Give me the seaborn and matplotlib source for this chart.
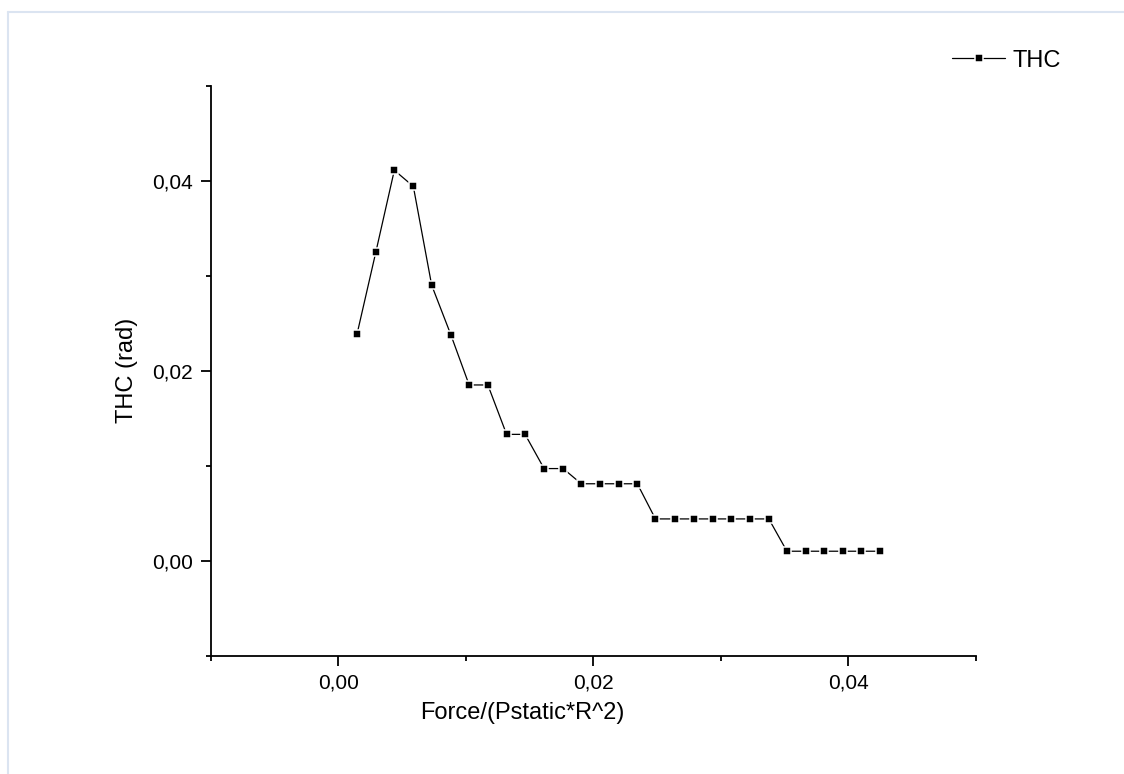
# THC vs normalised force, line with square markers
import matplotlib
matplotlib.use("Agg")
import matplotlib.pyplot as plt
import seaborn as sns
import pandas as pd
from matplotlib.lines import Line2D
from matplotlib.ticker import FixedLocator, FixedFormatter, MultipleLocator

# data
force = [0.00147, 0.00294, 0.00439, 0.00588, 0.00732, 0.00882, 0.01026, 0.01173,
         0.01320, 0.01465, 0.01614, 0.01764, 0.01906, 0.02055, 0.02205, 0.02346,
         0.02488, 0.02638, 0.02787, 0.02937, 0.03079, 0.03228, 0.03378, 0.03520,
         0.03669, 0.03811, 0.03961, 0.04102, 0.04252]
thc = [0.0239, 0.0325, 0.0411, 0.0394, 0.0290, 0.0238, 0.0185, 0.0185,
       0.0133, 0.0133, 0.0097, 0.0097, 0.0081, 0.0081, 0.0081, 0.0081,
       0.0044, 0.0044, 0.0044, 0.0044, 0.0044, 0.0044, 0.0044, 0.0010,
       0.0010, 0.0010, 0.0010, 0.0010, 0.0010]
series_name = "THC"

x_ticks = [0.00, 0.02, 0.04]
x_tick_labels = ["0,00", "0,02", "0,04"]
y_ticks = [0.00, 0.02, 0.04]
y_tick_labels = ["0,00", "0,02", "0,04"]
x_label = "Force/(Pstatic*R^2)"
y_label = "THC (rad)"

sns.set_style("ticks")
plt.rcParams["font.family"] = ["Liberation Sans", "DejaVu Sans"]
for key in ["text.color", "axes.labelcolor", "xtick.color", "ytick.color"]:
    plt.rcParams[key] = "black"

fig = plt.figure(figsize=(11.24, 7.74), dpi=100)
ax = fig.add_axes([0.1877, 0.1528, 0.6802, 0.7365])

df = pd.DataFrame({"force": force, "thc": thc})
sns.lineplot(data=df, x="force", y="thc", ax=ax, color="black", linewidth=0.9,
             marker="s", markersize=5.9, markerfacecolor="black",
             markeredgecolor="white", markeredgewidth=1.1, label=series_name)

ax.set_xlim(-0.01, 0.05)
ax.set_ylim(-0.01, 0.05)
ax.xaxis.set_major_locator(FixedLocator(x_ticks))
ax.xaxis.set_major_formatter(FixedFormatter(x_tick_labels))
ax.yaxis.set_major_locator(FixedLocator(y_ticks))
ax.yaxis.set_major_formatter(FixedFormatter(y_tick_labels))
ax.xaxis.set_minor_locator(MultipleLocator(0.01))
ax.yaxis.set_minor_locator(MultipleLocator(0.01))

ax.tick_params(which="major", direction="out", length=7, width=1.3,
               labelsize=15, pad=6, color="black", labelcolor="black")
ax.tick_params(which="minor", direction="out", length=3.6, width=1.3, color="black")
sns.despine(ax=ax)
for side in ["left", "bottom"]:
    ax.spines[side].set_linewidth(1.3)
    ax.spines[side].set_color("black")

ax.set_xlabel(x_label, fontsize=17, color="black")
ax.set_ylabel(y_label, fontsize=17, color="black")
ax.xaxis.set_label_coords((522 - 211) / 764, -0.081)
ax.yaxis.set_label_coords(-0.095, 0.5)

leg = ax.legend(loc="center left", bbox_to_anchor=(952 / 1124, 1 - 60.7 / 774),
                bbox_transform=fig.transFigure, frameon=False, borderpad=0,
                borderaxespad=0, handlelength=2.25, handletextpad=0.3, fontsize=17)
for t in leg.get_texts():
    t.set_color("black")

# light frame lines at top and left like the original export
fig.add_artist(Line2D([8 / 1124, 8 / 1124], [0, 1 - 12 / 774],
                      transform=fig.transFigure, color="#dbe4f1", linewidth=1.5))
fig.add_artist(Line2D([8 / 1124, 1], [1 - 12 / 774, 1 - 12 / 774],
                      transform=fig.transFigure, color="#dbe4f1", linewidth=1.5))

fig.savefig("out.png", dpi=100)
